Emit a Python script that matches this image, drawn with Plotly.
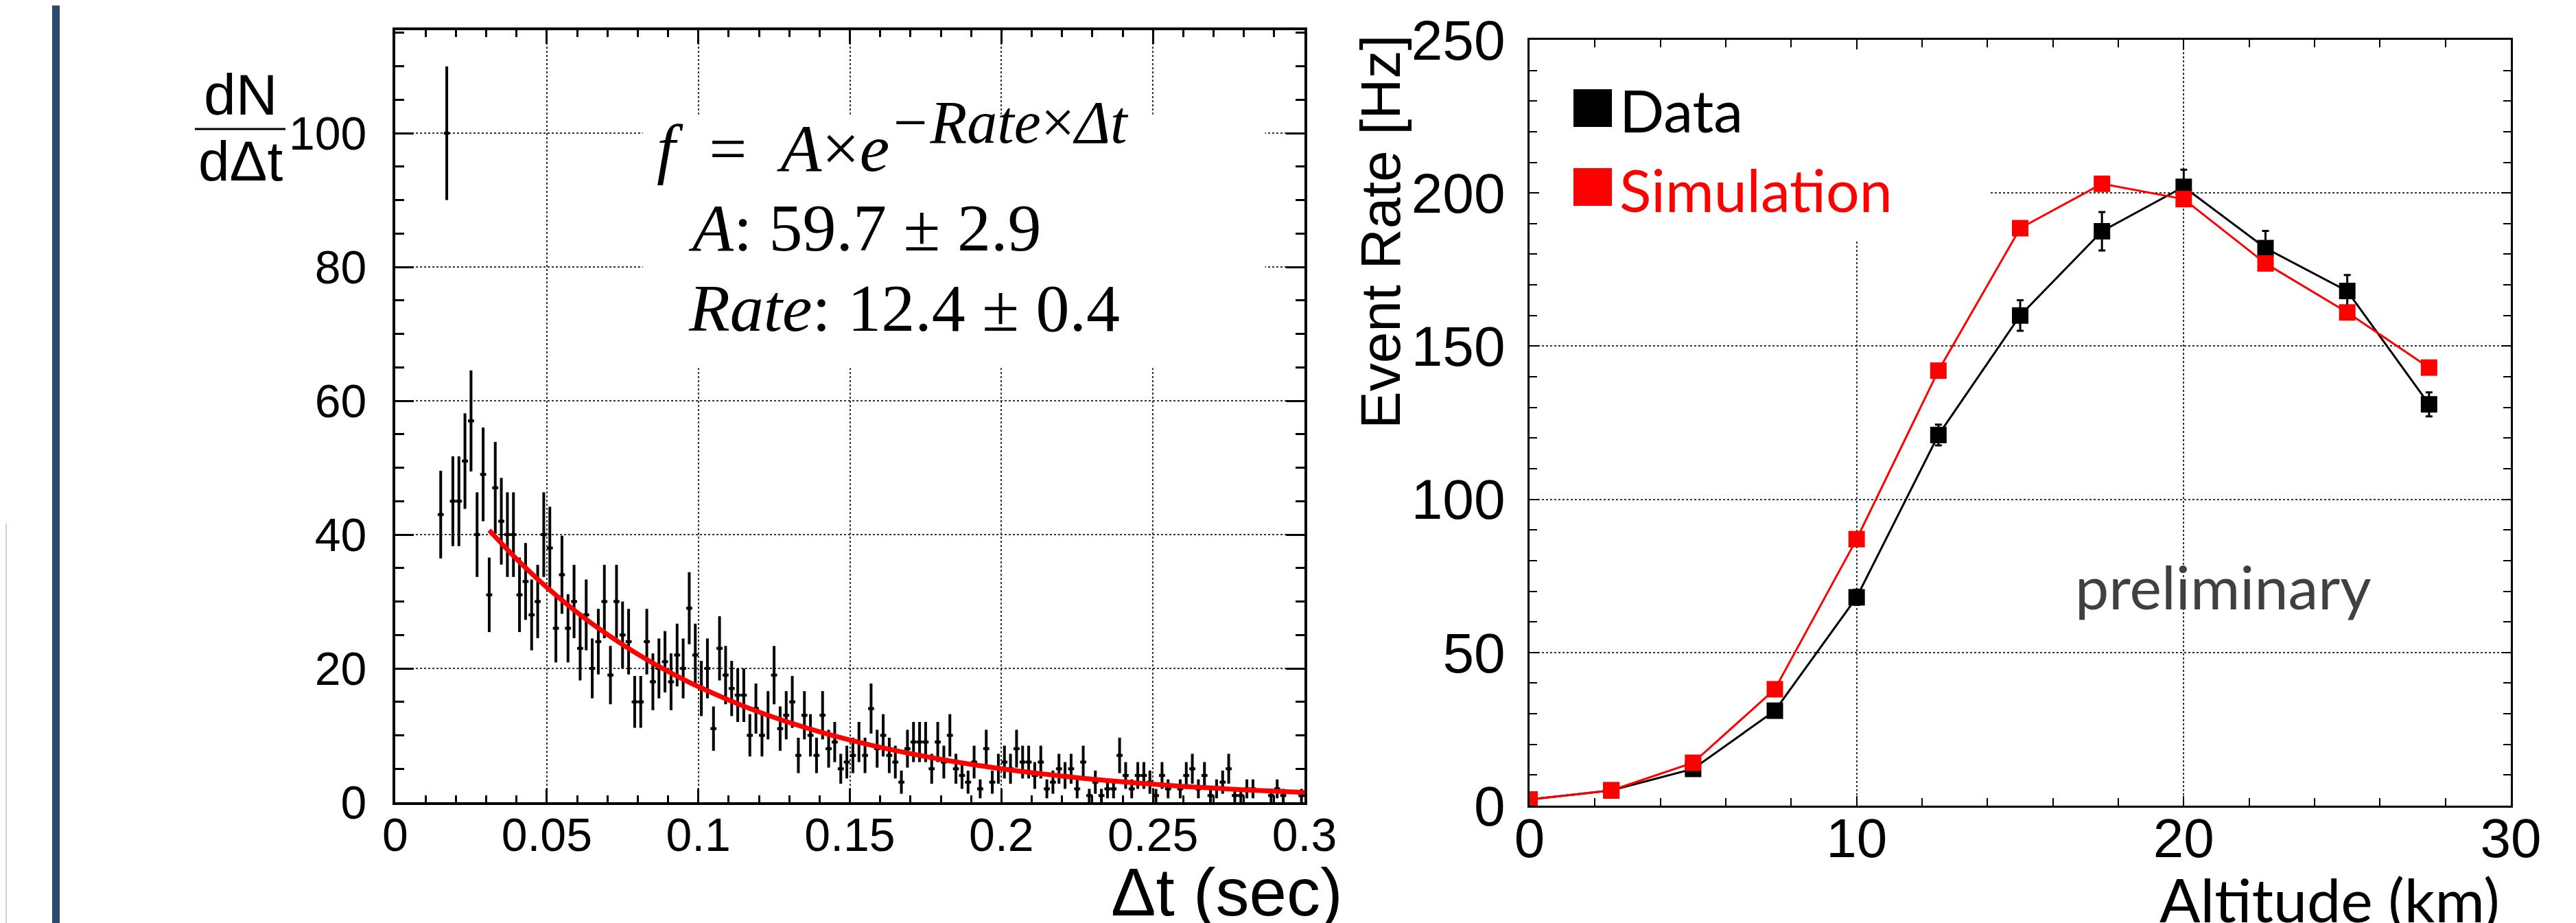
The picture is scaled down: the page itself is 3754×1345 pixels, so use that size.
import numpy as np
import plotly.graph_objects as go

W, H = 3754, 1345

# ---- left panel: time between events, bins of 0.002 s starting at 0.015 s
bin_first = 0.015
bin_width = 0.002
counts = [43, 100, 45, 45, 51, 57, 40, 49, 31, 47,
          42, 40, 40, 31, 33, 28, 30, 40, 38, 26,
          34, 26, 30, 23, 28, 20, 24, 30, 19, 30,
          25, 24, 15, 15, 24, 18, 20, 21, 18, 22,
          20, 29, 22, 17, 20, 11, 23, 19, 17, 16,
          16, 10, 14, 10, 13, 19, 11, 13, 15, 7,
          13, 10, 7, 13, 8, 9, 5, 6, 7, 9,
          7, 14, 8, 10, 7, 6, 3, 8, 9, 9,
          9, 5, 9, 6, 10, 5, 4, 3, 6, 2,
          8, 3, 5, 6, 5, 8, 6, 6, 4, 6,
          2, 3, 5, 4, 5, 2, 6, 1, 3, 1,
          2, 2, 7, 4, 2, 4, 4, 3, 1, 4,
          2, 0, 2, 4, 5, 2, 4, 1, 2, 3,
          5, 1, 1, 2, 2, 0, 0, 1, 2, 1,
          0, 0, 1]

# fitted curve as drawn (f = A exp(-Rate dt))
fit_t = [0.031, 0.04, 0.05, 0.06, 0.07, 0.08, 0.09, 0.10, 0.12, 0.14,
         0.16, 0.18, 0.20, 0.22, 0.24, 0.26, 0.28, 0.30]
fit_f = [40.65, 36.36, 32.11, 28.37, 25.06, 22.14, 19.56, 17.28, 13.48, 10.52,
         8.21, 6.41, 5.00, 3.90, 3.04, 2.37, 1.85, 1.45]

# ---- right panel: event rate vs altitude
altitude_km = [0, 2.5, 5, 7.5, 10, 12.5, 15, 17.5, 20, 22.5, 25, 27.5]
rate_data = [2, 5, 12, 31, 68, 121, 160, 187.5, 202, 182, 168, 131]
rate_data_err = [1, 1.5, 2, 2, 2.5, 3.4, 5, 6.3, 5.6, 5.6, 5.2, 3.9]
rate_sim = [2, 5, 14, 38, 87, 142, 188.5, 203, 198, 177, 161, 143]

x_ticks_left = [0, 0.05, 0.1, 0.15, 0.2, 0.25, 0.3]
x_ticktext_left = ['0', '0.05', '0.1', '0.15', '0.2', '0.25', '0.3']


def px(x):
    return x / W


def py(y):
    return 1 - y / H


dt = bin_first + bin_width * np.arange(len(counts))
cnt = np.array(counts, dtype=float)
keep = cnt > 0
dt, cnt = dt[keep], cnt[keep]
err = np.sqrt(cnt)  # poisson errors as in the histogram

ROOT_FONT = 'Liberation Sans, Arial, sans-serif'
PPT_FONT = 'Lato, Open Sans, sans-serif'

fig = go.Figure()

fig.add_trace(go.Scatter(
    x=dt, y=cnt, mode='markers', xaxis='x', yaxis='y',
    marker=dict(color='black', size=6),
    error_y=dict(type='data', array=err, color='black', thickness=4, width=0),
    error_x=dict(type='constant', value=bin_width / 2, color='black', thickness=4, width=0),
    showlegend=False))
fig.add_trace(go.Scatter(
    x=fit_t, y=fit_f, mode='lines', xaxis='x', yaxis='y',
    line=dict(color='red', width=7, shape='spline'), showlegend=False))

fig.add_trace(go.Scatter(
    x=altitude_km, y=rate_data, mode='lines+markers', xaxis='x2', yaxis='y2',
    line=dict(color='black', width=3),
    marker=dict(symbol='square', size=24, color='black'),
    error_y=dict(type='data', array=rate_data_err, color='black', thickness=3, width=5),
    showlegend=False))
fig.add_trace(go.Scatter(
    x=altitude_km, y=rate_sim, mode='lines+markers', xaxis='x2', yaxis='y2',
    line=dict(color='red', width=3),
    marker=dict(symbol='square', size=24, color='red'),
    showlegend=False))

grid = dict(showgrid=True, griddash='dot', gridcolor='#333333', gridwidth=1.5,
            zeroline=False, showline=True, linecolor='black', mirror='allticks',
            ticks='inside', tickcolor='black', automargin=False)

fig.update_layout(
    template='none',
    width=W, height=H,
    margin=dict(l=0, r=0, t=0, b=0, pad=0, autoexpand=False),
    paper_bgcolor='white', plot_bgcolor='white',
    xaxis=dict(domain=[px(568), px(1893)], range=[0, 0.3], anchor='y',
               tickvals=x_ticks_left, ticktext=x_ticktext_left,
               ticklen=20, tickwidth=3, linewidth=4,
               minor=dict(dtick=0.01, ticklen=10, tickwidth=3, ticks='inside', showgrid=False),
               tickfont=dict(family=ROOT_FONT, size=68, color='black'),
               ticklabelstandoff=-15, **grid),
    yaxis=dict(domain=[py(1161), py(36)], range=[0, 115.4], anchor='x',
               dtick=20, ticklen=27, tickwidth=3, linewidth=4,
               minor=dict(dtick=5, ticklen=13, tickwidth=3, ticks='inside', showgrid=False),
               tickfont=dict(family=ROOT_FONT, size=68, color='black'),
               ticklabelstandoff=24, **grid),
    xaxis2=dict(domain=[px(2221), px(3651)], range=[0, 30], anchor='y2',
                dtick=10, ticklen=14, tickwidth=2, linewidth=3,
                minor=dict(dtick=2, ticklen=11, tickwidth=2, ticks='inside', showgrid=False),
                tickfont=dict(family=ROOT_FONT, size=80, color='black'),
                ticklabelstandoff=-24, **grid),
    yaxis2=dict(domain=[py(1166), py(50)], range=[0, 250], anchor='x2',
                dtick=50, ticklen=14, tickwidth=2, linewidth=3,
                minor=dict(dtick=10, ticklen=11, tickwidth=2, ticks='inside', showgrid=False),
                tickfont=dict(family=ROOT_FONT, size=82, color='black'),
                ticklabelstandoff=16, **grid),
)

shapes = [
    # white boxes hiding the grid behind the fit text and the legend
    dict(type='rect', xref='x', yref='y', x0=0.0817, x1=0.287, y0=64.9, y1=102.8,
         fillcolor='white', line=dict(width=0), layer='between'),
    dict(type='rect', xref='x2', yref='y2', x0=0.05, x1=14.1, y0=184.5, y1=249.5,
         fillcolor='white', line=dict(width=0), layer='between'),
    # slide decorations
    dict(type='rect', xref='paper', yref='paper', x0=px(68), x1=px(79), y0=0, y1=1,
         fillcolor='#2B4A6F', line=dict(width=0)),
    dict(type='line', xref='paper', yref='paper', x0=px(1), x1=px(1), y0=py(755), y1=0,
         line=dict(color='#C9D1DC', width=2)),
    # fraction bar of dN/dΔt
    dict(type='line', xref='paper', yref='paper', x0=px(276), x1=px(408), y0=py(180), y1=py(180),
         line=dict(color='black', width=3)),
    # legend squares
    dict(type='rect', xref='paper', yref='paper', x0=px(2285), x1=px(2341), y0=py(177), y1=py(122),
         fillcolor='black', line=dict(width=0)),
    dict(type='rect', xref='paper', yref='paper', x0=px(2285), x1=px(2341), y0=py(292), y1=py(237),
         fillcolor='red', line=dict(width=0)),
]
fig.update_layout(shapes=shapes)

ann = []


def note(text, x, y, size, family, color='black', xanchor='center', yanchor='middle', angle=0):
    ann.append(dict(text=text, x=px(x), y=py(y), xref='paper', yref='paper',
                    xanchor=xanchor, yanchor=yanchor, showarrow=False, textangle=angle,
                    font=dict(family=family, size=size, color=color)))


note('dN', 342, 130, 84, ROOT_FONT)
note('dΔt', 342, 226, 82, ROOT_FONT)
note('Δt (sec)', 1780, 1292, 98, ROOT_FONT)
note('Event Rate [Hz]', 2003, 330, 82, ROOT_FONT, angle=-90)
note('Altitude (km)', 3387, 1302, 88, PPT_FONT)
note('Data', 2350, 152, 86, PPT_FONT, xanchor='left')
note('Simulation', 2350, 267, 86, PPT_FONT, color='red', xanchor='left')
note('preliminary', 3232, 846, 88, PPT_FONT, color='#404040')

SERIF = 'Liberation Serif, Times New Roman, serif'
sp = '\u2002'
note('<i>f</i>' + sp + '=' + sp + '<i>A</i>×<i>e</i>'
     '<sup><span style="font-size:88px"><i>−Rate</i>×<i>Δt</i></span></sup>',
     947, 192, 98, SERIF, xanchor='left')
note('<i>A</i>: 59.7 ± 2.9', 993, 324, 98, SERIF, xanchor='left')
note('<i>Rate</i>: 12.4 ± 0.4', 993, 441, 98, SERIF, xanchor='left')

fig.update_layout(annotations=ann)

fig.write_html("out.html")
